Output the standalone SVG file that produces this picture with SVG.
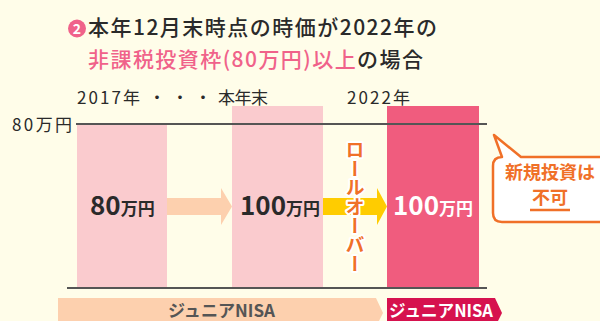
<svg xmlns="http://www.w3.org/2000/svg" width="600" height="321" viewBox="0 0 600 321">
<style>
text{font-family:"Noto Sans CJK JP","Noto Sans",sans-serif;}
.t1{font-size:21px;font-weight:500;fill:#2a2a2a;}
.pk{fill:#F0628A;}
.yr{font-size:17px;fill:#2a2a2a;}
.big{font-size:26px;font-weight:700;}
.sm{font-size:17px;font-weight:700;}
.dk{fill:#2a2a2a;}
.wh{fill:#ffffff;}
.or{fill:#F07028;font-weight:700;}
.axis{stroke:#555555;stroke-width:2;}
.band{font-size:17px;font-weight:700;}
</style>
<rect width="600" height="321" fill="#FFFDE9"/>
<g id="title">
<circle cx="77" cy="28.5" r="9" fill="#F0628A"/>
<text x="77" y="33.5" font-size="14" font-weight="700" text-anchor="middle" class="wh">2</text>
<text x="88" y="35" class="t1" textLength="349" lengthAdjust="spacing">本年12月末時点の時価が2022年の</text>
<text x="88" y="67" class="t1" textLength="335" lengthAdjust="spacing"><tspan class="pk">非課税投資枠(80万円)以上</tspan>の場合</text>
</g>
<g id="labels">
<text x="77" y="104" class="yr" textLength="63" lengthAdjust="spacing">2017年</text>
<text x="157" y="104" class="yr" text-anchor="middle">・</text>
<text x="180" y="104" class="yr" text-anchor="middle">・</text>
<text x="203" y="104" class="yr" text-anchor="middle">・</text>
<text x="218" y="104" class="yr" textLength="50" lengthAdjust="spacing">本年末</text>
<text x="347" y="104" class="yr" textLength="63" lengthAdjust="spacing">2022年</text>
<text x="12" y="131" class="yr" textLength="60" lengthAdjust="spacing">80万円</text>
</g>
<g id="bar-2017">
<rect x="77" y="124" width="90" height="164" fill="#FACBCE"/>
<text x="90" y="215" class="dk"><tspan class="big">80</tspan><tspan class="sm">万円</tspan></text>
</g>
<g id="bar-now">
<rect x="232" y="106" width="91" height="182" fill="#FACBCE"/>
<text x="240" y="215" class="dk"><tspan class="big">100</tspan><tspan class="sm">万円</tspan></text>
</g>
<g id="bar-2022">
<rect x="387" y="106" width="92" height="182" fill="#F05C7E"/>
<text x="393" y="215" class="wh"><tspan class="big">100</tspan><tspan class="sm">万円</tspan></text>
</g>
<g id="axes">
<line x1="76" y1="124" x2="487" y2="124" class="axis"/>
<line x1="67" y1="288" x2="487" y2="288" class="axis"/>
</g>
<g id="connectors">
<polygon points="167,198 221,198 221,188 232,206.5 221,225 221,215 167,215" fill="#FDD0AE"/>
<polygon points="323,198 377,198 377,188 387,206.5 377,225 377,215 323,215" fill="#FFCC00"/>
<text x="355" y="140" font-size="19" class="or" style="writing-mode:vertical-rl" stroke="#ffffff" stroke-width="4" stroke-linejoin="round" paint-order="stroke">ロールオーバー</text>
</g>
<g id="callout">
<path d="M502,157 L494,135 L521,157 H612 V222 H502 Q493,222 493,213 V166 Q493,157 502,157 Z" fill="#ffffff" stroke="#F07028" stroke-width="2.5" stroke-linejoin="round"/>
<text x="550" y="179" font-size="18" class="or" text-anchor="middle">新規投資は</text>
<text x="550" y="204" font-size="18" class="or" text-anchor="middle">不可</text>
<line x1="530" y1="210" x2="570" y2="210" stroke="#F07028" stroke-width="2.5"/>
</g>
<g id="band-junior-nisa-1">
<polygon points="58,298 376,298 383,313 379,321 58,321" fill="#FDD0AE"/>
<text x="221.5" y="317" class="band" fill="#555555" text-anchor="middle" textLength="107" lengthAdjust="spacingAndGlyphs">ジュニアNISA</text>
</g>
<g id="band-junior-nisa-2">
<polygon points="387,298 495,298 502,313 498,321 387,321" fill="#D6124E"/>
<text x="441" y="317" class="band wh" text-anchor="middle" textLength="104" lengthAdjust="spacingAndGlyphs">ジュニアNISA</text>
</g>
</svg>
